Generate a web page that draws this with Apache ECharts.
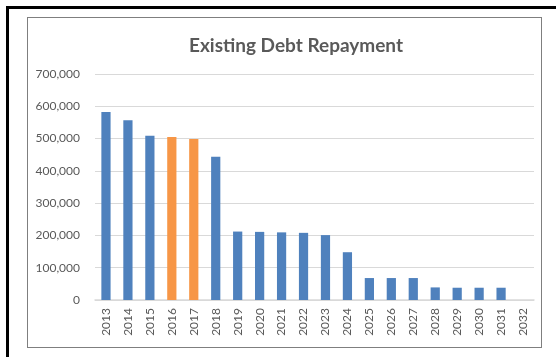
<!DOCTYPE html>
<html>
<head>
<meta charset="utf-8">
<script src="https://cdn.jsdelivr.net/npm/echarts@6/dist/echarts.min.js"></script>
<style>
  html, body { margin: 0; padding: 0; background: #fff; }
  .page { position: relative; width: 556px; height: 357px; overflow: hidden; }
  .outer { position: absolute; left: 6px; top: 6px; right: 0; bottom: 0; border-top: 3px solid #000; border-left: 3px solid #000; }
  .inner { position: absolute; left: 27px; top: 17px; width: 513px; height: 329px; border: 1.5px solid #7f7f7f; }
  #chart { position: absolute; left: 0; top: 0; width: 556px; height: 357px; }
</style>
</head>
<body>
<div class="page">
  <div class="outer"></div>
  <div class="inner"></div>
  <div id="chart"></div>
</div>
<script>
const years = ['2013', '2014', '2015', '2016', '2017', '2018', '2019', '2020', '2021', '2022',
  '2023', '2024', '2025', '2026', '2027', '2028', '2029', '2030', '2031', '2032'];
const repayment = [582000, 557000, 509000, 505000, 499000, 444000, 212000, 211000, 209500, 208000,
  201000, 148000, 68000, 68000, 68000, 39000, 38000, 38000, 38000, 0];
const highlightYears = ['2016', '2017'];
const yTicks = [0, 100000, 200000, 300000, 400000, 500000, 600000, 700000];

const colors = {
  base: '#4f81bd',
  highlight: '#f79646',
  text: '#595959',
  grid: '#d9d9d9'
};

const chart = echarts.init(document.getElementById('chart'));

const option = {
  animation: false,
  title: {
    text: 'Existing Debt Repayment',
    left: 291,
    textAlign: 'center',
    top: 31,
    textStyle: { fontFamily: 'Lato', fontWeight: 'bold', fontSize: 19, color: colors.text }
  },
  grid: { left: 95, right: 22, top: 74, bottom: 57 },
  xAxis: {
    type: 'category',
    data: years,
    axisLine: { lineStyle: { color: colors.grid, width: 1.5 } },
    axisTick: { show: false },
    axisLabel: { rotate: 90, margin: 8, color: colors.text, fontFamily: 'Lato', fontSize: 12 }
  },
  yAxis: {
    type: 'value',
    min: yTicks[0],
    max: yTicks[yTicks.length - 1],
    interval: yTicks[1] - yTicks[0],
    axisLine: { show: false },
    axisTick: { show: false },
    splitLine: { lineStyle: { color: colors.grid, width: 1 } },
    axisLabel: {
      margin: 15,
      color: colors.text,
      fontFamily: 'Lato',
      fontSize: 12,
      formatter: v => v.toLocaleString('en-US')
    }
  },
  series: [{
    type: 'bar',
    barWidth: '42%',
    data: repayment.map((v, i) => ({
      value: v,
      itemStyle: { color: highlightYears.includes(years[i]) ? colors.highlight : colors.base }
    }))
  }]
};

chart.setOption(option);
</script>
</body>
</html>
